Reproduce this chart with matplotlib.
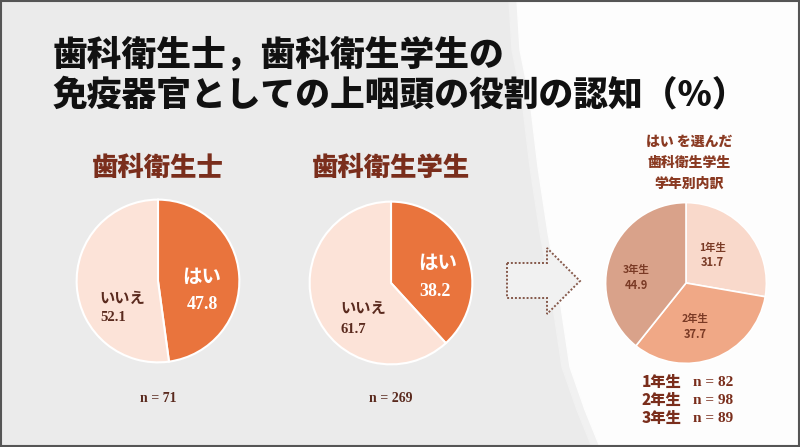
import matplotlib.pyplot as plt
from matplotlib.patches import Polygon, Rectangle

plt.rcParams['font.family'] = ['Noto Sans CJK JP', 'DejaVu Sans']

# data
title_lines = ["歯科衛生士，歯科衛生学生の", "免疫器官としての上咽頭の役割の認知（%）"]
groups = ["歯科衛生士", "歯科衛生学生"]
yes_pct = [47.8, 38.2]
no_pct = [52.1, 61.7]
group_n = [71, 269]
grades = ["1年生", "2年生", "3年生"]
grade_pct = [31.7, 37.7, 44.9]
grade_n = [82, 98, 89]
sub_title = ["はい を選んだ", "歯科衛生学生", "学年別内訳"]

W, H = 800, 447
fig = plt.figure(figsize=(8, 4.47), dpi=100)

# background canvas in pixel coords (y down)
bg = fig.add_axes([0, 0, 1, 1])
bg.set_xlim(0, W)
bg.set_ylim(H, 0)
bg.axis("off")
bg.add_patch(Rectangle((0, 0), W, H, color="#ebebeb", zorder=0))
edge = [(517, 0), (520, 50), (530, 100), (538, 167), (548, 233), (560, 300),
        (570, 367), (585, 410), (600, 447)]
bg.add_patch(Polygon([(e[0] - 8, e[1]) for e in edge] + [(W, H), (W, 0)],
                     color="#f1f1f1", zorder=1))
bg.add_patch(Polygon(edge + [(W, H), (W, 0)], color="#fdfdfd", zorder=1))
bg.add_patch(Rectangle((1, 1), W - 2, H - 2, fill=False, ec="#555555", lw=1.5, zorder=5))

# arrow
arrow = [(507, 263), (547, 263), (547, 248), (580, 281), (547, 314), (547, 298), (507, 298)]
bg.add_patch(Polygon(arrow, closed=True, fc="#f1f1f1", ec="#85584a", lw=1.4,
                     ls=(0, (1, 1)), zorder=2))

# main title
for i, line in enumerate(title_lines):
    bg.text(53, 56 + 39 * i, line, fontsize=25, fontweight="heavy", color="#111111",
            va="center", ha="left", zorder=3)

brown = "#7a2e1c"
serif = "Liberation Serif"


def pie_axes(cx, cy, r):
    return fig.add_axes([(cx - r) / W, (H - cy - r) / H, 2 * r / W, 2 * r / H])


centers = [(158, 281), (391, 283)]
label_pos = [
    {"yes": (0.54, 0.04), "yes_v": (0.54, -0.29), "no": (-0.44, -0.21), "no_v": (-0.55, -0.45)},
    {"yes": (0.57, 0.24), "yes_v": (0.54, -0.11), "no": (-0.34, -0.30), "no_v": (-0.46, -0.57)},
]
for g, (cx, cy) in enumerate(centers):
    ax = pie_axes(cx, cy, 83)
    ax.pie([yes_pct[g], no_pct[g]], colors=["#e9743d", "#fce3d8"], startangle=90,
           counterclock=False, wedgeprops=dict(edgecolor="white", linewidth=1.5))
    ax.set_xlim(-1.02, 1.02)
    ax.set_ylim(-1.02, 1.02)
    lp = label_pos[g]
    ax.text(*lp["yes"], "はい", color="white", fontsize=14, fontweight="bold",
            ha="center", va="center")
    ax.text(*lp["yes_v"], f"{yes_pct[g]}", color="white", fontsize=13, fontweight="bold",
            family=serif, ha="center", va="center")
    ax.text(*lp["no"], "いいえ", color="#5a2a1e", fontsize=11, fontweight="bold",
            ha="center", va="center")
    ax.text(*lp["no_v"], f"{no_pct[g]}", color="#5a2a1e", fontsize=10.5, fontweight="bold",
            family=serif, ha="center", va="center")
    bg.text(cx, 168, groups[g], fontsize=19, fontweight="heavy", color=brown,
            ha="center", va="center", zorder=3)
    bg.text(cx, 398, f"n = {group_n[g]}", fontsize=10, fontweight="bold", color="#5a2a1e",
            family=serif, ha="center", va="center", zorder=3)

# grade breakdown pie
ax3 = pie_axes(686, 283, 82)
ax3.pie(grade_pct, colors=["#f9d9cb", "#f0a886", "#d9a28a"], startangle=90,
        counterclock=False, wedgeprops=dict(edgecolor="white", linewidth=1.2))
ax3.set_xlim(-1.02, 1.02)
ax3.set_ylim(-1.02, 1.02)
grade_label_pos = [(0.33, 0.44), (0.11, -0.45), (-0.62, 0.16)]
for (x, y), name, v in zip(grade_label_pos, grades, grade_pct):
    ax3.text(x, y, name, fontsize=7.5, fontweight="bold", color="#7a3a25",
             ha="center", va="center")
    ax3.text(x, y - 0.19, f"{v}", fontsize=8, fontweight="bold", color="#7a3a25",
             ha="center", va="center")

for i, line in enumerate(sub_title):
    bg.text(689, 142 + 21 * i, line, fontsize=10, fontweight="heavy", color="#8a3a22",
            ha="center", va="center", zorder=3)

for i, (name, n) in enumerate(zip(grades, grade_n)):
    y = 382 + 18 * i
    bg.text(642, y, name, fontsize=11, fontweight="heavy", color=brown,
            ha="left", va="center", zorder=3)
    bg.text(693, y, f"n = {n}", fontsize=11, fontweight="bold", color=brown,
            family=serif, ha="left", va="center", zorder=3)

fig.savefig("out.png", dpi=100)
